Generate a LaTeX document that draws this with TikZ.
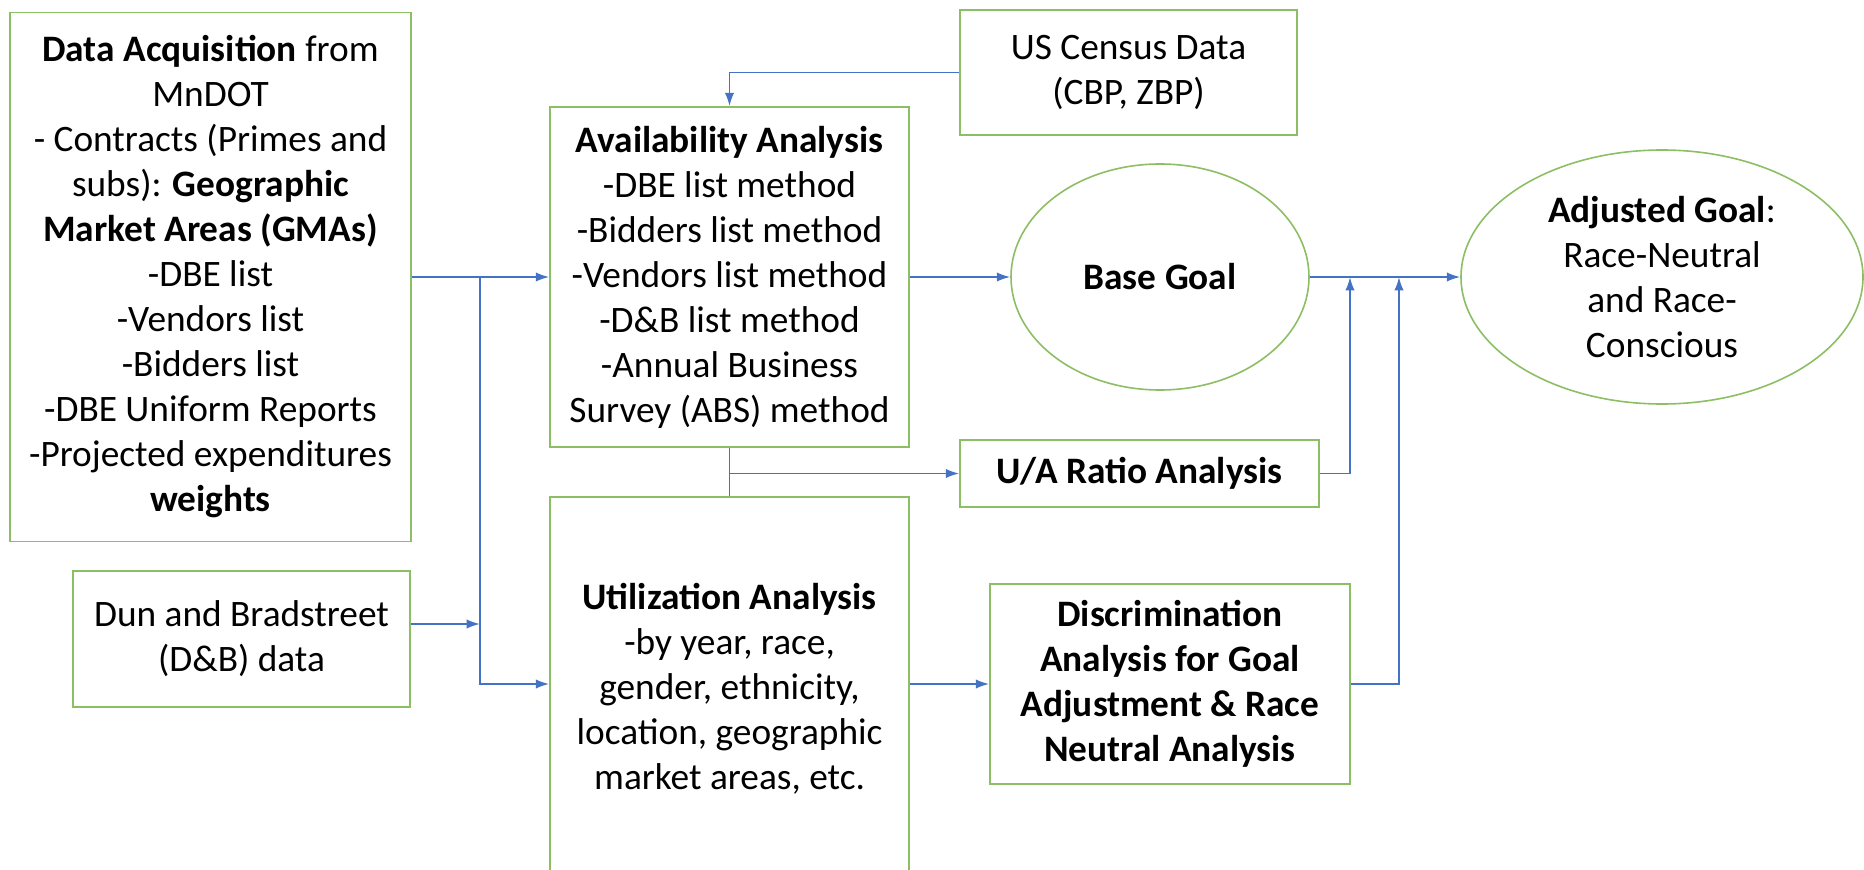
\documentclass[tikz,border=0pt]{standalone}
\usepackage{fontspec}
\setmainfont{Carlito}
\usetikzlibrary{arrows.meta,shapes.geometric}

\definecolor{boxgreen}{RGB}{140,190,100}
\definecolor{flowblue}{RGB}{68,114,196}

\tikzset{every picture/.style={line width=0.75pt}}
\tikzset{
  box/.style={draw=boxgreen, line width=1.2pt, align=center, inner sep=0pt,
    font=\fontsize{28}{33.75}\selectfont},
  oval/.style={box, ellipse},
  flow/.style={draw=flowblue, line width=1.4pt, -{Latex[length=10pt,width=7pt]}},
  link/.style={draw=flowblue, line width=1.4pt}
}

\begin{document}
\begin{tikzpicture}[x=0.75pt,y=0.75pt,yscale=-1,xscale=1]
%set diagram size
\useasboundingbox (0,0) rectangle (1864,870);

% Boxes
\node (acq) [box, minimum width=300.75pt, minimum height=396.75pt] at (210.5,277)
  {\textbf{Data Acquisition} from\\ MnDOT\\ - Contracts (Primes and\\ subs): \textbf{Geographic}\\
   \textbf{Market Areas (GMAs)}\\ -DBE list\\ -Vendors list\\ -Bidders list\\
   -DBE Uniform Reports\\ -Projected expenditures\\ \textbf{weights}};
\node (census) [box, minimum width=252.75pt, minimum height=93.75pt] at (1128.5,72.5)
  {US Census Data\\ (CBP, ZBP)};
\node (avail) [box, minimum width=269.25pt, minimum height=255pt] at (729.5,277)
  {\textbf{Availability Analysis}\\ -DBE list method\\ -Bidders list method\\ -Vendors list method\\
   -D\&B list method\\ -Annual Business\\ Survey (ABS) method};
\node (ua) [box, minimum width=269.25pt, minimum height=50.25pt] at (1139.5,473.5)
  {\textbf{U/A Ratio Analysis}};
\node (dun) [box, minimum width=252.75pt, minimum height=102pt] at (241.5,639)
  {Dun and Bradstreet\\ (D\&B) data};
\node (util) [box, minimum width=269.25pt, minimum height=287.25pt] at (729.5,688.5)
  {\textbf{Utilization Analysis}\\ -by year, race,\\ gender, ethnicity,\\ location, geographic\\ market areas, etc.};
\node (discrim) [box, font=\fontsize{28}{33.75}\selectfont\bfseries, minimum width=270pt, minimum height=150pt] at (1170,684)
  {Discrimination\\ Analysis for Goal\\ Adjustment \& Race\\ Neutral Analysis};

% Ellipses
\node (base) [oval, minimum width=223.5pt, minimum height=169.5pt] at (1160,277) {\textbf{Base Goal}};
\node (adjusted) [oval, minimum width=301.5pt, minimum height=190.5pt] at (1662,277)
  {\textbf{Adjusted Goal}:\\ Race-Neutral\\ and Race-\\ Conscious};

% Junctions
\coordinate (jL) at (480,277);
\coordinate (jD) at (480,624);
\coordinate (jA) at (729.5,473.5);
\coordinate (jU) at (1350,277);
\coordinate (jR) at (1399,277);

% Connectors
\draw [flow] (acq.east) -- (avail.west);
\draw [flow] (jL) |- (discrim.west -| util.west);
\draw [flow] (dun.east |- jD) -- (jD);
\draw [flow] (census.west) -| (avail.north);
\draw [flow] (avail.east) -- (base.west);
\draw [link] (avail.south) -- (util.north);
\draw [flow] (jA) -- (ua.west);
\draw [flow] (base.east) -- (adjusted.west);
\draw [flow] (ua.east) -| (jU);
\draw [flow] (util.east |- discrim.west) -- (discrim.west);
\draw [flow] (discrim.east) -| (jR);

\end{tikzpicture}
\end{document}
